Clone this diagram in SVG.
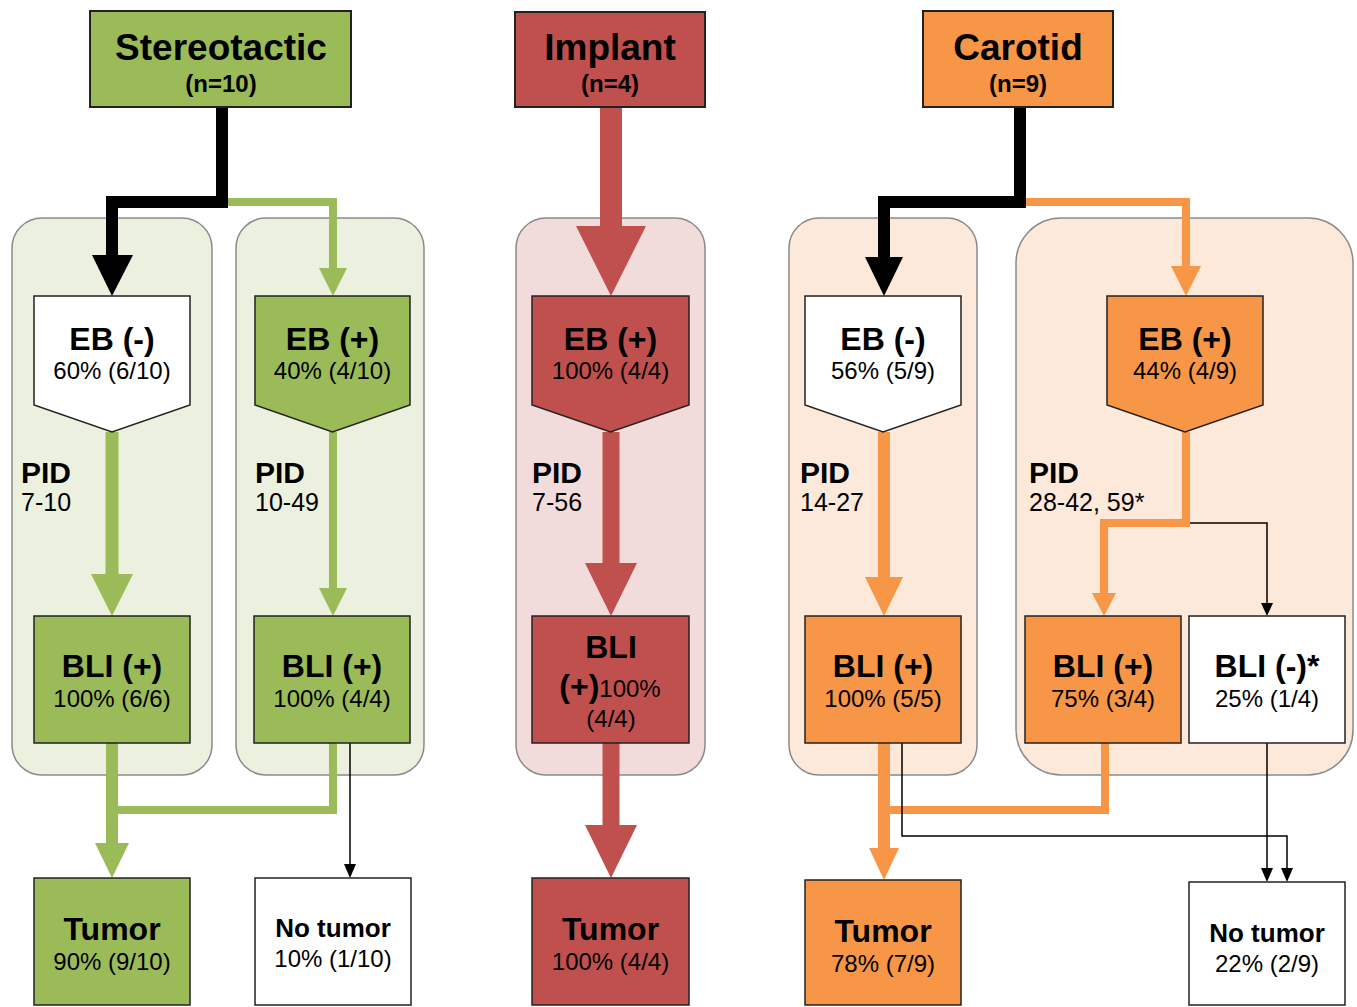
<svg xmlns="http://www.w3.org/2000/svg" width="1357" height="1007" viewBox="0 0 1357 1007">
<style>
text{font-family:"Liberation Sans",Arial,sans-serif;text-anchor:middle;fill:#000}
.h1{font-size:37px;font-weight:bold}
.h2{font-size:24px;font-weight:bold}
.t{font-size:32px;font-weight:bold}
.nt{font-size:26px;font-weight:bold}
.p{font-size:24px}
.pid{font-size:30px;font-weight:bold;text-anchor:start}
.pidn{font-size:25px;text-anchor:start}
.node{stroke:#222;stroke-width:1.5}
.hdr{stroke:#222;stroke-width:2}
.g{fill:#9BBB59}.r{fill:#C0504D}.o{fill:#F79646}.w{fill:#fff}
.cg{fill:#EBF1DE;stroke:#8a8a8a;stroke-width:1.5}
.cr{fill:#F2DCDB;stroke:#8a8a8a;stroke-width:1.5}
.co{fill:#FDE9D9;stroke:#8a8a8a;stroke-width:1.5}
.ln{fill:none;stroke-linejoin:miter;stroke-linecap:butt}
</style>
<g id="containers">
<rect id="c-st-neg" class="cg" x="12" y="218" width="200" height="557" rx="30"/>
<rect id="c-st-pos" class="cg" x="236" y="218" width="188" height="557" rx="30"/>
<rect id="c-im" class="cr" x="516" y="218" width="189" height="557" rx="30"/>
<rect id="c-ca-neg" class="co" x="789" y="218" width="188" height="557" rx="30"/>
<rect id="c-ca-pos" class="co" x="1016" y="218" width="337" height="557" rx="45"/>
</g>
<g id="connectors">
<!-- Stereotactic -->
<path class="ln" d="M222,107 V202 H112 V258" stroke="#000" stroke-width="12"/>
<polygon points="92,255 133,255 112,296" fill="#000"/>
<path class="ln" d="M228,202 H333 V270" stroke="#9BBB59" stroke-width="8"/>
<polygon points="319,268 347,268 333,296" fill="#9BBB59"/>
<path class="ln" d="M112,432 V576" stroke="#9BBB59" stroke-width="13"/>
<polygon points="91,574 133,574 112,616" fill="#9BBB59"/>
<path class="ln" d="M333,432 V590" stroke="#9BBB59" stroke-width="8"/>
<polygon points="319,588 347,588 333,616" fill="#9BBB59"/>
<path class="ln" d="M112,743 V845" stroke="#9BBB59" stroke-width="12"/>
<path class="ln" d="M333,743 V810 H112" stroke="#9BBB59" stroke-width="8"/>
<polygon points="95,843 129,843 112,878" fill="#9BBB59"/>
<path class="ln" d="M350,743 V866" stroke="#000" stroke-width="1.5"/>
<polygon points="344,864 356,864 350,878" fill="#000"/>
<!-- Implant -->
<path class="ln" d="M611,107 V228" stroke="#C0504D" stroke-width="22"/>
<polygon points="576,226 646,226 611,296" fill="#C0504D"/>
<path class="ln" d="M611,432 V565" stroke="#C0504D" stroke-width="17"/>
<polygon points="585,563 637,563 611,616" fill="#C0504D"/>
<path class="ln" d="M611,743 V827" stroke="#C0504D" stroke-width="17"/>
<polygon points="585,825 637,825 611,878" fill="#C0504D"/>
<!-- Carotid -->
<path class="ln" d="M1020,107 V202 H884 V259" stroke="#000" stroke-width="12"/>
<polygon points="865,257 903,257 884,296" fill="#000"/>
<path class="ln" d="M1026,202 H1186 V268" stroke="#F79646" stroke-width="8"/>
<polygon points="1171,266 1201,266 1186,296" fill="#F79646"/>
<path class="ln" d="M884,432 V579" stroke="#F79646" stroke-width="12"/>
<polygon points="865,577 903,577 884,616" fill="#F79646"/>
<path class="ln" d="M1186,432 V523 H1104 V595" stroke="#F79646" stroke-width="8"/>
<polygon points="1092,593 1116,593 1104,616" fill="#F79646"/>
<path class="ln" d="M1190,523 H1267 V605" stroke="#000" stroke-width="1.5"/>
<polygon points="1261,603 1273,603 1267,616" fill="#000"/>
<path class="ln" d="M884,743 V850" stroke="#F79646" stroke-width="12"/>
<path class="ln" d="M1105,743 V810 H884" stroke="#F79646" stroke-width="8"/>
<polygon points="869,848 899,848 884,880" fill="#F79646"/>
<path class="ln" d="M902,743 V836 H1287 V870" stroke="#000" stroke-width="1.5"/>
<polygon points="1281,868 1293,868 1287,882" fill="#000"/>
<path class="ln" d="M1267,743 V870" stroke="#000" stroke-width="1.5"/>
<polygon points="1261,868 1273,868 1267,882" fill="#000"/>
</g>
<!-- Stereotactic nodes -->
<g id="st-head"><rect class="g hdr" x="90" y="11" width="261" height="96"/><text class="h1" x="221" y="60">Stereotactic</text><text class="h2" x="221" y="92">(n=10)</text></g>
<g id="st-eb-neg"><polygon class="w node" points="34,296 190,296 190,405 112,432 34,405"/><text class="t" x="112" y="350">EB (-)</text><text class="p" x="112" y="379">60% (6/10)</text></g>
<g id="st-eb-pos"><polygon class="g node" points="255,296 410,296 410,405 332.5,432 255,405"/><text class="t" x="332.5" y="350">EB (+)</text><text class="p" x="332.5" y="379">40% (4/10)</text></g>
<g id="st-pid-neg"><text class="pid" x="21" y="483">PID</text><text class="pidn" x="21" y="511">7-10</text></g>
<g id="st-pid-pos"><text class="pid" x="255" y="483">PID</text><text class="pidn" x="255" y="511">10-49</text></g>
<g id="st-bli-1"><rect class="g node" x="34" y="616" width="156" height="127"/><text class="t" x="112" y="677">BLI (+)</text><text class="p" x="112" y="707">100% (6/6)</text></g>
<g id="st-bli-2"><rect class="g node" x="254" y="616" width="156" height="127"/><text class="t" x="332" y="677">BLI (+)</text><text class="p" x="332" y="707">100% (4/4)</text></g>
<g id="st-tumor"><rect class="g node" x="34" y="878" width="156" height="127"/><text class="t" x="112" y="940">Tumor</text><text class="p" x="112" y="970">90% (9/10)</text></g>
<g id="st-notumor"><rect class="w node" x="255" y="878" width="156" height="127"/><text class="nt" x="333" y="937">No tumor</text><text class="p" x="333" y="967">10% (1/10)</text></g>
<!-- Implant nodes -->
<g id="im-head"><rect class="r hdr" x="515" y="12" width="190" height="95"/><text class="h1" x="610" y="60">Implant</text><text class="h2" x="610" y="92">(n=4)</text></g>
<g id="im-eb"><polygon class="r node" points="532,296 689,296 689,405 610.5,432 532,405"/><text class="t" x="610.5" y="350">EB (+)</text><text class="p" x="610.5" y="379">100% (4/4)</text></g>
<g id="im-pid"><text class="pid" x="532" y="483">PID</text><text class="pidn" x="532" y="511">7-56</text></g>
<g id="im-bli"><rect class="r node" x="532" y="616" width="157" height="127"/><text class="t" x="611" y="658">BLI</text><text x="610" y="697"><tspan class="t">(+)</tspan><tspan class="p">100%</tspan></text><text class="p" x="611" y="727">(4/4)</text></g>
<g id="im-tumor"><rect class="r node" x="532" y="878" width="157" height="127"/><text class="t" x="610.5" y="940">Tumor</text><text class="p" x="610.5" y="970">100% (4/4)</text></g>
<!-- Carotid nodes -->
<g id="ca-head"><rect class="o hdr" x="923" y="11" width="190" height="96"/><text class="h1" x="1018" y="60">Carotid</text><text class="h2" x="1018" y="92">(n=9)</text></g>
<g id="ca-eb-neg"><polygon class="w node" points="805,296 961,296 961,405 883,432 805,405"/><text class="t" x="883" y="350">EB (-)</text><text class="p" x="883" y="379">56% (5/9)</text></g>
<g id="ca-eb-pos"><polygon class="o node" points="1107,296 1263,296 1263,405 1185,432 1107,405"/><text class="t" x="1185" y="350">EB (+)</text><text class="p" x="1185" y="379">44% (4/9)</text></g>
<g id="ca-pid-neg"><text class="pid" x="800" y="483">PID</text><text class="pidn" x="800" y="511">14-27</text></g>
<g id="ca-pid-pos"><text class="pid" x="1029" y="483">PID</text><text class="pidn" x="1029" y="511">28-42, 59*</text></g>
<g id="ca-bli-1"><rect class="o node" x="805" y="616" width="156" height="127"/><text class="t" x="883" y="677">BLI (+)</text><text class="p" x="883" y="707">100% (5/5)</text></g>
<g id="ca-bli-2"><rect class="o node" x="1025" y="616" width="156" height="127"/><text class="t" x="1103" y="677">BLI (+)</text><text class="p" x="1103" y="707">75% (3/4)</text></g>
<g id="ca-bli-neg"><rect class="w node" x="1189" y="616" width="156" height="127"/><text class="t" x="1267" y="677">BLI (-)*</text><text class="p" x="1267" y="707">25% (1/4)</text></g>
<g id="ca-tumor"><rect class="o node" x="805" y="880" width="156" height="125"/><text class="t" x="883" y="942">Tumor</text><text class="p" x="883" y="972">78% (7/9)</text></g>
<g id="ca-notumor"><rect class="w node" x="1189" y="882" width="156" height="123"/><text class="nt" x="1267" y="942">No tumor</text><text class="p" x="1267" y="972">22% (2/9)</text></g>
</svg>
